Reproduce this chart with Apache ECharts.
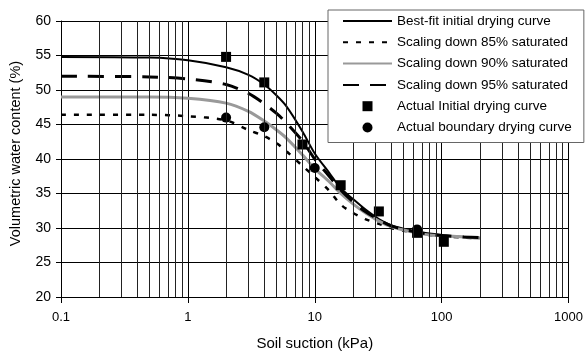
<!DOCTYPE html>
<html>
<head>
<meta charset="utf-8">
<script src="https://cdn.jsdelivr.net/npm/echarts@6/dist/echarts.min.js"></script>
<style>
  html, body {margin: 0; padding: 0; background: #fff;}
  #chart {width: 586px; height: 356px;}
</style>
</head>
<body>
<div id="chart"></div>
<script>
// soil suction (kPa) where the fitted curves were read
const suction = [0.1, 0.5, 1, 2, 3, 4, 5, 6, 8, 10, 13, 16, 20, 25, 32, 40, 50, 64, 80, 100, 150, 200];

const bestFit = [54.8, 54.7, 54.3, 53.3, 52.2, 50.8, 49.2, 47.6, 44.0, 40.8, 38.0, 35.8, 34.2, 32.7, 31.3, 30.4, 29.9, 29.5, 29.2, 29.0, 28.7, 28.6];
const down95 = [52.0, 51.9, 51.6, 50.8, 49.5, 48.0, 46.6, 45.2, 42.6, 40.0, 37.5, 35.5, 33.8, 32.4, 31.2, 30.3, 29.8, 29.4, 29.1, 28.9, 28.7, 28.6];
const down90 = [49.0, 49.0, 48.8, 48.1, 46.9, 45.5, 44.2, 43.0, 40.6, 38.6, 36.7, 35.0, 33.5, 32.2, 31.0, 30.2, 29.7, 29.3, 29.0, 28.9, 28.7, 28.5];
const down85 = [46.4, 46.4, 46.2, 45.6, 44.2, 43.3, 42.3, 41.1, 39.0, 37.4, 35.4, 33.4, 32.2, 31.3, 30.6, 30.0, 29.6, 29.3, 29.0, 28.8, 28.6, 28.5];

// measured points
const initialX = [2, 4, 8, 16, 32, 64, 104];
const initialY = [54.8, 51.1, 42.1, 36.2, 32.4, 29.3, 28.0];
const boundaryX = [2, 4, 10, 64];
const boundaryY = [46.0, 44.6, 38.7, 29.8];

const xTicks = [0.1, 1, 10, 100, 1000];
const minorGrid = [];
xTicks.slice(0, -1).forEach(d => [2, 3, 4, 5, 6, 7, 8, 9].forEach(m => minorGrid.push(+(d * m).toPrecision(2))));

const zip = (xs, ys) => xs.map((x, i) => [x, ys[i]]);
const font = 'Liberation Sans';

const curve = (name, values, lineStyle) => ({
  name,
  type: 'line',
  data: zip(suction, values),
  symbol: 'none',
  smooth: 0.3,
  z: 3,
  itemStyle: {color: lineStyle.color},
  lineStyle
});

// line entries: hide the dot ECharts puts in the middle of the legend line
const lineEntry = name => ({name, itemStyle: {opacity: 0}});

const chart = echarts.init(document.getElementById('chart'));
chart.setOption({
  animation: false,
  textStyle: {fontFamily: font, color: '#000'},
  grid: {left: 59, right: 15, top: 21, bottom: 59},
  legend: {
    orient: 'vertical',
    left: 328,
    top: 10,
    z: 20,
    padding: [4, 12, 8, 14],
    itemWidth: 49,
    itemHeight: 10,
    itemGap: 7.3,
    backgroundColor: '#fff',
    borderColor: '#666',
    borderWidth: 1,
    textStyle: {fontFamily: font, fontSize: 13.5, color: '#000'},
    data: [
      lineEntry('Best-fit initial drying curve'),
      lineEntry('Scaling down 85% saturated'),
      lineEntry('Scaling down 90% saturated'),
      lineEntry('Scaling down 95% saturated'),
      {name: 'Actual Initial drying curve', icon: 'path://M0,0L10,0L10,10L0,10Z'},
      {name: 'Actual boundary drying curve', icon: 'circle'}
    ]
  },
  xAxis: {
    type: 'log',
    logBase: 10,
    min: 0.1,
    max: 1000,
    name: 'Soil suction (kPa)',
    nameLocation: 'middle',
    nameGap: 39,
    nameTextStyle: {fontFamily: font, fontSize: 15, color: '#000'},
    axisLine: {lineStyle: {color: '#000', width: 1}},
    axisTick: {show: true, length: 6, lineStyle: {color: '#000'}},
    axisLabel: {fontFamily: font, fontSize: 13, color: '#000', margin: 14, formatter: v => String(+(+v).toPrecision(3))},
    splitLine: {show: true, lineStyle: {color: '#000', width: 1}}
  },
  yAxis: {
    type: 'value',
    min: 20,
    max: 60,
    interval: 5,
    name: 'Volumetric water content (%)',
    nameLocation: 'middle',
    nameGap: 38,
    nameTextStyle: {fontFamily: font, fontSize: 14.5, color: '#000', padding: [0, 0, 0, 11]},
    axisLine: {show: true, lineStyle: {color: '#000', width: 1}},
    axisTick: {show: true, length: 5, lineStyle: {color: '#000'}},
    axisLabel: {fontFamily: font, fontSize: 14, color: '#000', margin: 10},
    splitLine: {show: true, lineStyle: {color: '#000', width: 1}}
  },
  series: [
    {
      name: 'minor grid',
      type: 'line',
      data: [],
      z: 1,
      silent: true,
      markLine: {
        silent: true,
        symbol: 'none',
        label: {show: false},
        animation: false,
        lineStyle: {color: '#222', width: 1, type: 'solid'},
        emphasis: {disabled: true},
        data: minorGrid.map(v => ({xAxis: v}))
      }
    },
    curve('Best-fit initial drying curve', bestFit, {color: '#000', width: 2, type: 'solid'}),
    curve('Scaling down 85% saturated', down85, {color: '#000', width: 2.5, type: [5, 8]}),
    curve('Scaling down 90% saturated', down90, {color: '#999', width: 3, type: 'solid'}),
    curve('Scaling down 95% saturated', down95, {color: '#000', width: 3, type: [16, 11]}),
    {
      name: 'Actual Initial drying curve',
      type: 'scatter',
      data: zip(initialX, initialY),
      symbol: 'rect',
      symbolSize: 10,
      itemStyle: {color: '#000', opacity: 1},
      z: 4
    },
    {
      name: 'Actual boundary drying curve',
      type: 'scatter',
      data: zip(boundaryX, boundaryY),
      symbol: 'circle',
      symbolSize: 10,
      itemStyle: {color: '#000', opacity: 1},
      z: 4
    }
  ]
});
</script>
</body>
</html>
